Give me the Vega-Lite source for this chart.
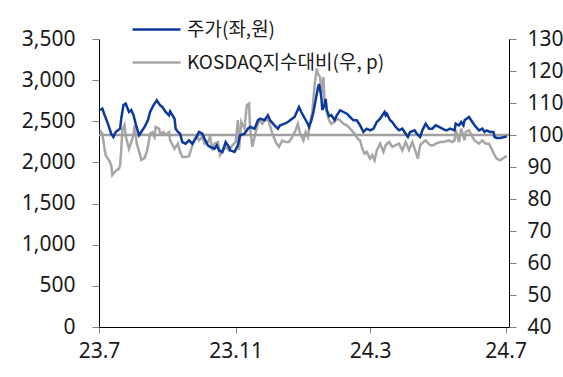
{
  "$schema": "https://vega.github.io/schema/vega-lite/v6.json",
  "width": 410,
  "height": 288,
  "autosize": "none",
  "padding": {"left": 99, "top": 39, "right": 54, "bottom": 50},
  "background": "white",
  "config": {
    "view": {"stroke": null},
    "font": "Noto Sans",
    "axis": {
      "grid": false,
      "domainColor": "#000000",
      "domainWidth": 1,
      "tickColor": "#808080",
      "tickWidth": 1,
      "labelFont": "Noto Sans",
      "labelFontSize": 21,
      "labelColor": "#1a1a1a",
      "labelOverlap": false,
      "title": null
    }
  },
  "datasets": {
    "price": [
      {"d":"2023-07-02","v":2637},{"d":"2023-07-04","v":2653},{"d":"2023-07-06","v":2576},{"d":"2023-07-09","v":2471},
      {"d":"2023-07-12","v":2349},{"d":"2023-07-14","v":2309},{"d":"2023-07-16","v":2370},{"d":"2023-07-20","v":2410},
      {"d":"2023-07-21","v":2531},{"d":"2023-07-23","v":2698},{"d":"2023-07-25","v":2714},{"d":"2023-07-28","v":2613},
      {"d":"2023-07-30","v":2637},{"d":"2023-08-01","v":2576},{"d":"2023-08-03","v":2471},{"d":"2023-08-06","v":2330},
      {"d":"2023-08-07","v":2349},{"d":"2023-08-11","v":2431},{"d":"2023-08-14","v":2512},{"d":"2023-08-16","v":2613},
      {"d":"2023-08-19","v":2694},{"d":"2023-08-22","v":2755},{"d":"2023-08-25","v":2694},{"d":"2023-08-27","v":2674},
      {"d":"2023-08-30","v":2613},{"d":"2023-09-02","v":2573},{"d":"2023-09-03","v":2621},{"d":"2023-09-07","v":2531},
      {"d":"2023-09-08","v":2410},{"d":"2023-09-10","v":2370},{"d":"2023-09-12","v":2349},{"d":"2023-09-14","v":2248},
      {"d":"2023-09-17","v":2228},{"d":"2023-09-20","v":2269},{"d":"2023-09-23","v":2228},{"d":"2023-09-26","v":2288},
      {"d":"2023-09-29","v":2370},{"d":"2023-10-02","v":2349},{"d":"2023-10-04","v":2288},{"d":"2023-10-07","v":2208},
      {"d":"2023-10-09","v":2188},{"d":"2023-10-13","v":2167},{"d":"2023-10-15","v":2208},{"d":"2023-10-17","v":2147},
      {"d":"2023-10-20","v":2127},{"d":"2023-10-23","v":2248},{"d":"2023-10-26","v":2188},{"d":"2023-10-27","v":2147},
      {"d":"2023-10-31","v":2127},{"d":"2023-11-03","v":2212},{"d":"2023-11-05","v":2330},{"d":"2023-11-09","v":2349},
      {"d":"2023-11-12","v":2410},{"d":"2023-11-14","v":2431},{"d":"2023-11-18","v":2410},{"d":"2023-11-21","v":2512},
      {"d":"2023-11-23","v":2531},{"d":"2023-11-27","v":2512},{"d":"2023-11-30","v":2573},{"d":"2023-12-02","v":2512},
      {"d":"2023-12-06","v":2451},{"d":"2023-12-09","v":2410},{"d":"2023-12-11","v":2451},{"d":"2023-12-15","v":2471},
      {"d":"2023-12-18","v":2491},{"d":"2023-12-20","v":2512},{"d":"2023-12-24","v":2552},{"d":"2023-12-26","v":2613},
      {"d":"2023-12-28","v":2674},{"d":"2023-12-30","v":2613},{"d":"2024-01-02","v":2540},{"d":"2024-01-05","v":2467},
      {"d":"2024-01-06","v":2431},{"d":"2024-01-08","v":2504},{"d":"2024-01-10","v":2613},{"d":"2024-01-12","v":2759},
      {"d":"2024-01-14","v":2905},{"d":"2024-01-15","v":2953},{"d":"2024-01-17","v":2807},{"d":"2024-01-18","v":2637},
      {"d":"2024-01-20","v":2698},{"d":"2024-01-21","v":2771},{"d":"2024-01-22","v":2637},{"d":"2024-01-24","v":2564},
      {"d":"2024-01-26","v":2576},{"d":"2024-01-29","v":2516},{"d":"2024-01-31","v":2573},{"d":"2024-02-03","v":2634},
      {"d":"2024-02-06","v":2613},{"d":"2024-02-09","v":2592},{"d":"2024-02-12","v":2552},{"d":"2024-02-15","v":2512},
      {"d":"2024-02-18","v":2512},{"d":"2024-02-21","v":2451},{"d":"2024-02-24","v":2370},{"d":"2024-02-27","v":2410},
      {"d":"2024-03-01","v":2390},{"d":"2024-03-04","v":2410},{"d":"2024-03-07","v":2491},{"d":"2024-03-10","v":2531},
      {"d":"2024-03-14","v":2613},{"d":"2024-03-15","v":2573},{"d":"2024-03-16","v":2592},{"d":"2024-03-19","v":2512},
      {"d":"2024-03-21","v":2491},{"d":"2024-03-24","v":2431},{"d":"2024-03-27","v":2390},{"d":"2024-03-30","v":2410},
      {"d":"2024-04-02","v":2349},{"d":"2024-04-04","v":2309},{"d":"2024-04-06","v":2370},{"d":"2024-04-10","v":2390},
      {"d":"2024-04-12","v":2349},{"d":"2024-04-15","v":2309},{"d":"2024-04-17","v":2390},{"d":"2024-04-20","v":2471},
      {"d":"2024-04-23","v":2410},{"d":"2024-04-26","v":2410},{"d":"2024-04-29","v":2451},{"d":"2024-05-02","v":2431},
      {"d":"2024-05-05","v":2410},{"d":"2024-05-08","v":2390},{"d":"2024-05-09","v":2390},{"d":"2024-05-12","v":2410},
      {"d":"2024-05-16","v":2390},{"d":"2024-05-17","v":2471},{"d":"2024-05-20","v":2451},{"d":"2024-05-22","v":2491},
      {"d":"2024-05-24","v":2451},{"d":"2024-05-25","v":2512},{"d":"2024-05-29","v":2552},{"d":"2024-06-01","v":2491},
      {"d":"2024-06-03","v":2451},{"d":"2024-06-07","v":2390},{"d":"2024-06-10","v":2410},{"d":"2024-06-12","v":2370},
      {"d":"2024-06-14","v":2390},{"d":"2024-06-17","v":2370},{"d":"2024-06-20","v":2370},{"d":"2024-06-21","v":2309},
      {"d":"2024-06-23","v":2297},{"d":"2024-06-26","v":2297},{"d":"2024-06-30","v":2309},{"d":"2024-07-02","v":2318}
    ],
    "rel": [
      {"d":"2023-07-02","v":101.4},{"d":"2023-07-04","v":100.4},{"d":"2023-07-06","v":95.7},{"d":"2023-07-07","v":93.7},
      {"d":"2023-07-10","v":92.1},{"d":"2023-07-12","v":90.6},{"d":"2023-07-13","v":87.5},{"d":"2023-07-16","v":88.8},
      {"d":"2023-07-19","v":89.5},{"d":"2023-07-20","v":90.6},{"d":"2023-07-21","v":95.3},{"d":"2023-07-22","v":101.6},
      {"d":"2023-07-24","v":103.1},{"d":"2023-07-25","v":99.7},{"d":"2023-07-28","v":95.7},{"d":"2023-07-30","v":97.8},
      {"d":"2023-08-01","v":99.9},{"d":"2023-08-02","v":103.0},{"d":"2023-08-04","v":97.3},{"d":"2023-08-07","v":93.8},
      {"d":"2023-08-08","v":92.2},{"d":"2023-08-11","v":92.8},{"d":"2023-08-13","v":94.7},{"d":"2023-08-15","v":98.3},
      {"d":"2023-08-16","v":100.4},{"d":"2023-08-18","v":100.9},{"d":"2023-08-20","v":99.4},{"d":"2023-08-21","v":102.5},
      {"d":"2023-08-24","v":102.0},{"d":"2023-08-25","v":100.4},{"d":"2023-08-28","v":100.9},{"d":"2023-08-30","v":100.0},
      {"d":"2023-09-02","v":100.9},{"d":"2023-09-03","v":98.3},{"d":"2023-09-07","v":95.7},{"d":"2023-09-10","v":97.3},
      {"d":"2023-09-12","v":94.7},{"d":"2023-09-14","v":93.1},{"d":"2023-09-17","v":93.1},{"d":"2023-09-20","v":93.4},
      {"d":"2023-09-22","v":95.7},{"d":"2023-09-25","v":98.8},{"d":"2023-09-27","v":99.9},{"d":"2023-09-29","v":98.3},
      {"d":"2023-10-02","v":99.4},{"d":"2023-10-04","v":97.3},{"d":"2023-10-07","v":97.8},{"d":"2023-10-09","v":99.4},
      {"d":"2023-10-11","v":95.2},{"d":"2023-10-13","v":97.3},{"d":"2023-10-16","v":97.8},{"d":"2023-10-18","v":93.7},
      {"d":"2023-10-20","v":94.7},{"d":"2023-10-23","v":96.3},{"d":"2023-10-26","v":95.2},{"d":"2023-10-29","v":96.8},
      {"d":"2023-11-01","v":97.8},{"d":"2023-11-03","v":104.7},{"d":"2023-11-04","v":95.3},{"d":"2023-11-06","v":104.1},
      {"d":"2023-11-09","v":102.0},{"d":"2023-11-11","v":109.3},{"d":"2023-11-13","v":109.8},{"d":"2023-11-14","v":102.0},
      {"d":"2023-11-16","v":96.3},{"d":"2023-11-19","v":100.9},{"d":"2023-11-22","v":104.6},{"d":"2023-11-25","v":103.5},
      {"d":"2023-11-28","v":105.1},{"d":"2023-12-01","v":104.1},{"d":"2023-12-04","v":100.4},{"d":"2023-12-07","v":97.8},
      {"d":"2023-12-10","v":96.3},{"d":"2023-12-13","v":98.3},{"d":"2023-12-16","v":97.8},{"d":"2023-12-19","v":97.8},
      {"d":"2023-12-22","v":99.4},{"d":"2023-12-25","v":101.5},{"d":"2023-12-27","v":103.5},{"d":"2023-12-29","v":100.4},
      {"d":"2024-01-01","v":98.3},{"d":"2024-01-03","v":100.9},{"d":"2024-01-05","v":99.4},{"d":"2024-01-07","v":104.1},
      {"d":"2024-01-09","v":107.2},{"d":"2024-01-11","v":115.5},{"d":"2024-01-13","v":120.7},{"d":"2024-01-14","v":119.2},
      {"d":"2024-01-16","v":118.1},{"d":"2024-01-17","v":112.9},{"d":"2024-01-19","v":118.1},{"d":"2024-01-20","v":110.3},
      {"d":"2024-01-22","v":107.2},{"d":"2024-01-24","v":104.6},{"d":"2024-01-26","v":103.5},{"d":"2024-01-29","v":104.1},
      {"d":"2024-01-31","v":105.1},{"d":"2024-02-03","v":104.6},{"d":"2024-02-06","v":103.5},{"d":"2024-02-09","v":103.0},
      {"d":"2024-02-12","v":102.0},{"d":"2024-02-16","v":100.4},{"d":"2024-02-19","v":98.8},{"d":"2024-02-21","v":98.3},
      {"d":"2024-02-23","v":95.7},{"d":"2024-02-25","v":94.2},{"d":"2024-02-27","v":94.7},{"d":"2024-03-01","v":92.6},
      {"d":"2024-03-03","v":93.7},{"d":"2024-03-05","v":92.1},{"d":"2024-03-07","v":95.2},{"d":"2024-03-10","v":97.3},
      {"d":"2024-03-13","v":94.7},{"d":"2024-03-15","v":96.8},{"d":"2024-03-18","v":97.8},{"d":"2024-03-21","v":96.3},
      {"d":"2024-03-24","v":96.8},{"d":"2024-03-27","v":97.3},{"d":"2024-03-30","v":95.2},{"d":"2024-04-02","v":97.8},
      {"d":"2024-04-05","v":95.3},{"d":"2024-04-08","v":97.8},{"d":"2024-04-11","v":94.7},{"d":"2024-04-13","v":92.6},
      {"d":"2024-04-15","v":96.8},{"d":"2024-04-18","v":97.8},{"d":"2024-04-20","v":98.3},{"d":"2024-04-24","v":96.8},
      {"d":"2024-04-27","v":96.8},{"d":"2024-04-29","v":97.3},{"d":"2024-05-03","v":97.8},{"d":"2024-05-06","v":97.8},
      {"d":"2024-05-08","v":98.0},{"d":"2024-05-11","v":98.3},{"d":"2024-05-14","v":97.8},{"d":"2024-05-16","v":98.3},
      {"d":"2024-05-17","v":101.5},{"d":"2024-05-20","v":97.8},{"d":"2024-05-22","v":102.0},{"d":"2024-05-25","v":98.3},
      {"d":"2024-05-26","v":100.9},{"d":"2024-05-29","v":101.5},{"d":"2024-06-01","v":99.4},{"d":"2024-06-03","v":98.3},
      {"d":"2024-06-07","v":97.3},{"d":"2024-06-10","v":98.3},{"d":"2024-06-13","v":97.3},{"d":"2024-06-16","v":97.3},
      {"d":"2024-06-19","v":95.2},{"d":"2024-06-21","v":93.7},{"d":"2024-06-23","v":92.6},{"d":"2024-06-26","v":92.1},
      {"d":"2024-06-28","v":92.6},{"d":"2024-07-01","v":93.3},{"d":"2024-07-02","v":93.1}
    ]
  },
  "layer": [
    {
      "layer": [
        {
          "data": {"name": "rel"},
          "mark": {"type": "line", "strokeWidth": 2.5, "interpolate": "linear"},
          "encoding": {
            "x": {
              "field": "d", "type": "temporal",
              "scale": {"type": "utc", "domain": [{"year": 2023, "month": 7, "date": 1, "utc": true}, {"year": 2024, "month": 7, "date": 4, "utc": true}]},
              "axis": {
                "values": [
                  {"year": 2023, "month": 7, "date": 1, "utc": true},
                  {"year": 2023, "month": 11, "date": 1, "utc": true},
                  {"year": 2024, "month": 3, "date": 1, "utc": true},
                  {"year": 2024, "month": 7, "date": 1, "utc": true}
                ],
                "labelExpr": "utcFormat(datum.value, '%y.%-m')",
                "tickSize": 6,
                "labelPadding": 7,
                "labelFlush": false,
                "labelOverlap": false
              }
            },
            "y": {
              "field": "v", "type": "quantitative",
              "scale": {"domain": [40, 130], "zero": false, "nice": false},
              "axis": {"orient": "right", "values": [40, 50, 60, 70, 80, 90, 100, 110, 120, 130], "format": "d", "tickSize": 7, "labelPadding": 11, "labelOverlap": false}
            },
            "color": {"datum": "KOSDAQ지수대비(우, p)"}
          }
        },
        {
          "data": {"values": [{}]},
          "mark": {"type": "rule", "color": "#a0a0a0", "strokeWidth": 2.5},
          "encoding": {
            "y": {
              "datum": 100, "type": "quantitative",
              "scale": {"domain": [40, 130], "zero": false, "nice": false},
              "axis": {"orient": "right", "values": [40, 50, 60, 70, 80, 90, 100, 110, 120, 130], "format": "d", "tickSize": 7, "labelPadding": 11, "labelOverlap": false}
            }
          }
        }
      ]
    },
    {
      "data": {"name": "price"},
      "mark": {"type": "line", "strokeWidth": 2.5},
      "encoding": {
        "x": {"field": "d", "type": "temporal"},
        "y": {
          "field": "v", "type": "quantitative",
          "scale": {"domain": [0, 3500], "nice": false},
          "axis": {"orient": "left", "values": [0, 500, 1000, 1500, 2000, 2500, 3000, 3500], "format": ",d", "tickSize": 7, "labelPadding": 17, "labelOverlap": false}
        },
        "color": {
          "datum": "주가(좌,원)",
          "scale": {"domain": ["주가(좌,원)", "KOSDAQ지수대비(우, p)"], "range": ["#0b3a9c", "#a6a6a6"]},
          "legend": {
            "orient": "none", "legendX": 48, "legendY": -19, "title": null, "padding": 0,
            "symbolType": "M-3,0H3", "symbolSize": 256, "symbolStrokeWidth": 2.5,
            "labelFont": "Noto Sans CJK KR", "labelFontSize": 19, "labelColor": "#1a1a1a",
            "labelOffset": 21, "rowPadding": 13, "labelLimit": 400
          }
        }
      }
    }
  ],
  "resolve": {"scale": {"y": "independent"}}
}
